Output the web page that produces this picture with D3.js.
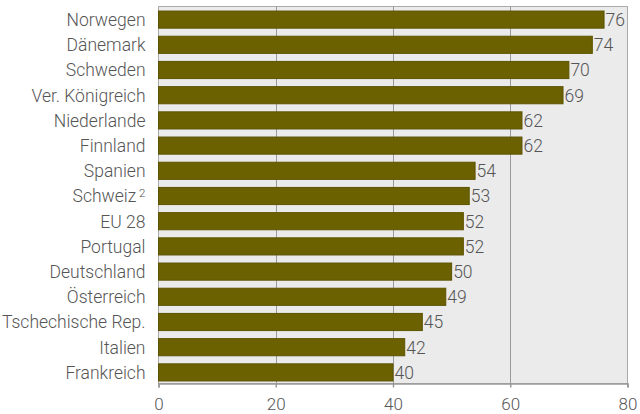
<!DOCTYPE html>
<html><head><meta charset="utf-8">
<script src="https://cdn.jsdelivr.net/npm/d3@7"></script>
<style>
body{margin:0;background:#fff;}
text{font-family:Roboto,"Noto Sans",sans-serif;font-weight:300;fill:#555;}
</style></head>
<body><svg id="c" width="640" height="414"></svg>
<script>
const categories = ["Norwegen","Dänemark","Schweden","Ver. Königreich","Niederlande","Finnland","Spanien","Schweiz","EU 28","Portugal","Deutschland","Österreich","Tschechische Rep.","Italien","Frankreich"];
const values = [76,74,70,69,62,62,54,53,52,52,50,49,45,42,40];
const footnotes = ["","","","","","","","2","","","","","","",""];
const xTicks = [0,20,40,60,80];

const svg = d3.select("#c");
const m = {l:158.5, r:12.5, t:6.5, b:30.5};
const W = 640, H = 414;
const x = d3.scaleLinear().domain([0,80]).range([m.l, W - m.r]);
const y = d3.scaleBand().domain(categories).range([7, 385]).paddingInner(0.32).paddingOuter(0.16);

svg.append("rect").attr("x", x(0)).attr("y", m.t).attr("width", x(80)-x(0)).attr("height", H-m.b-m.t)
  .attr("fill","#ebebeb").attr("stroke","#aaa").attr("stroke-width",1);

svg.selectAll("line.grid").data(xTicks.slice(1,-1)).join("line").attr("class","grid")
  .attr("x1", d=>Math.round(x(d))+0.5).attr("x2", d=>Math.round(x(d))+0.5)
  .attr("y1", m.t).attr("y2", H-m.b).attr("stroke","#9a9a9a").attr("stroke-width",1);

svg.selectAll("rect.bar").data(values).join("rect").attr("class","bar")
  .attr("x", x(0)).attr("y", (d,i)=>y(categories[i]))
  .attr("width", d=>x(d)-x(0)).attr("height", y.bandwidth())
  .attr("fill","#6b6100").attr("stroke","#5c5300").attr("stroke-width",1);

svg.selectAll("text.val").data(values).join("text").attr("class","val")
  .attr("x", d=>x(d)+1.5).attr("y", (d,i)=>y(categories[i])+y.bandwidth()/2)
  .attr("dy","0.36em").attr("font-size",17.5).text(d=>d);

const lab = svg.selectAll("text.cat").data(categories).join("text").attr("class","cat")
  .attr("x", m.l-13).attr("y", d=>y(d)+y.bandwidth()/2).attr("dy","0.36em")
  .attr("text-anchor","end").attr("font-size",17.5);
lab.each(function(d,i){
  const t = d3.select(this);
  t.append("tspan").text(d);
  if(footnotes[i]){
    t.append("tspan").text("\u00a0"+footnotes[i]).attr("font-size",11.5).attr("dy","-0.5em");
  }
});

const axis = d3.axisBottom(x).tickValues(xTicks).tickSize(4).tickPadding(10).tickFormat(d3.format("d"));
const g = svg.append("g").attr("transform",`translate(0,${H-m.b})`).call(axis);
g.select(".domain").attr("stroke","#999").attr("stroke-width",1.5);
g.selectAll(".tick line").attr("stroke","#999").attr("stroke-width",1.5);
g.selectAll(".tick text").attr("font-size",17).attr("fill","#555").style("font-family","Roboto").style("font-weight",300);
</script></body></html>
